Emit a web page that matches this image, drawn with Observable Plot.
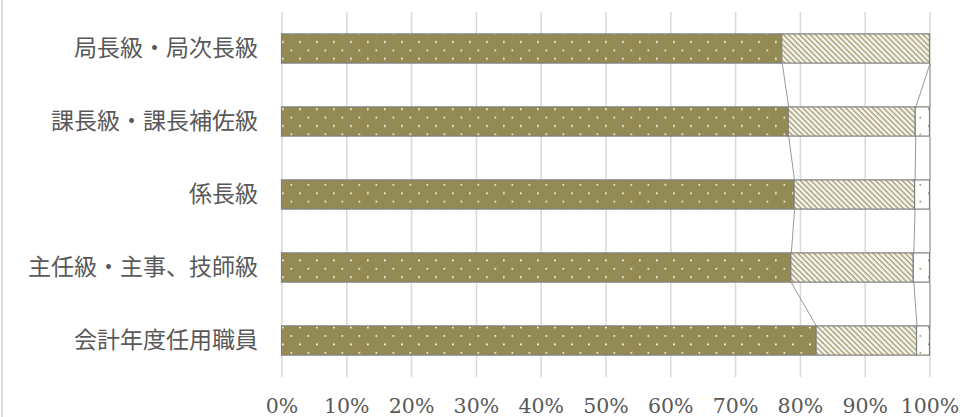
<!DOCTYPE html>
<html>
<head>
<meta charset="utf-8">
<script src="https://cdn.jsdelivr.net/npm/d3@7"></script>
<script src="https://cdn.jsdelivr.net/npm/@observablehq/plot@0.6"></script>
<style>
  html, body { margin: 0; padding: 0; background: #fff; }
  #wrap { position: relative; width: 960px; height: 417px; overflow: hidden; }
  #frameLeft { position: absolute; left: 1px; top: 0; width: 1.5px; height: 417px; background: #d9d9d9; }
  #chart { position: absolute; left: 0; top: 0; }
</style>
</head>
<body>
<div id="wrap"><div id="frameLeft"></div><div id="chart"></div></div>
<script>
const categories = ["局長級・局次長級", "課長級・課長補佐級", "係長級", "主任級・主事、技師級", "会計年度任用職員"];
const series1 = [77.2, 78.2, 79.1, 78.6, 82.5];
const series2 = [22.8, 19.6, 18.6, 18.9, 15.5];
const series3 = [0, 2.2, 2.3, 2.5, 2.0];
const xTicks = [0, 10, 20, 30, 40, 50, 60, 70, 80, 90, 100];

const fills = ["url(#dotsDark)", "url(#hatch)", "url(#dotsLight)"];
const seriesList = [series1, series2, series3];
const half = 0.2;

const segments = [];
const ends = categories.map(() => []);
categories.forEach((c, i) => {
  let acc = 0;
  seriesList.forEach((s, k) => {
    const v = s[i];
    segments.push({i, k, x1: acc, x2: acc + v});
    acc += v;
    ends[i].push(acc);
  });
});
const links = [];
for (let i = 0; i < categories.length - 1; i++) {
  for (let k = 0; k < seriesList.length; k++) {
    links.push({xa: ends[i][k], ya: i + half, xb: ends[i + 1][k], yb: i + 1 - half});
  }
}

const chart = Plot.plot({
  width: 960,
  height: 417,
  marginLeft: 281.5,
  marginRight: 30.5,
  marginTop: 12,
  marginBottom: 40,
  x: {domain: [0, 100]},
  y: {domain: [-0.5, categories.length - 0.5], reverse: true},
  style: {background: "transparent", color: "#595959"},
  marks: [
    Plot.gridX(xTicks, {stroke: "#d9d9d9", strokeOpacity: 1, strokeWidth: 1.5}),
    Plot.axisX(xTicks, {
      tickSize: 0, tickPadding: 20.5, tickFormat: d => d + "%",
      fontSize: 20.5, fontFamily: "DejaVu Serif", fill: "#595959"
    }),
    Plot.axisY(d3.range(categories.length), {
      tickSize: 0, tickPadding: 24, tickFormat: i => categories[i],
      fontSize: 23, fontFamily: "Noto Sans CJK JP", fill: "#595959"
    }),
    Plot.rectX(segments, {
      x1: "x1", x2: "x2",
      y1: d => d.i - half, y2: d => d.i + half,
      fill: d => fills[d.k],
      stroke: "#808080", strokeWidth: 1.2
    }),
    Plot.link(links, {x1: "xa", y1: "ya", x2: "xb", y2: "yb", stroke: "#8c8c8c", strokeWidth: 0.9})
  ]
});

document.getElementById("chart").appendChild(chart);

const defs = d3.select(chart).insert("defs", ":first-child");
defs.html(`
  <pattern id="dotsDark" patternUnits="userSpaceOnUse" x="0" y="4" width="17" height="16.8">
    <rect width="17" height="16.8" fill="#948A54"></rect>
    <rect x="10" y="3.5" width="1.7" height="1.7" fill="#ffffff"></rect>
    <rect x="1.5" y="11.9" width="1.7" height="1.7" fill="#ffffff" opacity="0.85"></rect>
  </pattern>
  <pattern id="hatch" patternUnits="userSpaceOnUse" width="3.8" height="3.8" patternTransform="rotate(-45)">
    <rect width="3.8" height="3.8" fill="#ffffff"></rect>
    <line x1="1.2" y1="0" x2="1.2" y2="3.8" stroke="#948A54" stroke-width="1.8" stroke-dasharray="1.5 0.4"></line>
  </pattern>
  <pattern id="dotsLight" patternUnits="userSpaceOnUse" x="0" y="4" width="17" height="16.8">
    <rect width="17" height="16.8" fill="#ffffff"></rect>
    <rect x="10" y="3.5" width="1.7" height="1.7" fill="#948A54"></rect>
    <rect x="1.5" y="11.9" width="1.7" height="1.7" fill="#948A54" opacity="0.85"></rect>
  </pattern>
`);
</script>
</body>
</html>
